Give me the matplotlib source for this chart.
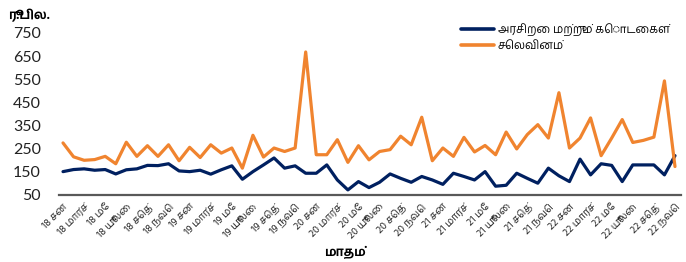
import os
import matplotlib
matplotlib.use("Agg")
import matplotlib.pyplot as plt
from matplotlib import font_manager
from matplotlib.font_manager import FontProperties
import numpy as np

# ---- data (Jan 2018 .. Nov 2022, monthly, Rs. bn) ----
revenue_grants = [151, 160, 163, 157, 160, 141, 159, 163, 178, 177, 185, 154, 151, 157, 140,
                  159, 176, 118, 151, 180, 210, 166, 176, 144, 144, 180, 115, 72, 108, 82,
                  105, 141, 122, 105, 130, 115, 96, 144, 130, 115, 151, 88, 92, 144, 122,
                  101, 166, 133, 108, 205, 137, 185, 178, 108, 180, 180, 180, 137, 220]
expenditure = [275, 215, 200, 203, 217, 185, 278, 217, 263, 217, 267, 198, 256, 212, 267,
               231, 253, 166, 308, 214, 253, 238, 253, 668, 224, 224, 289, 191, 263, 202,
               238, 246, 304, 267, 386, 198, 253, 217, 299, 236, 264, 224, 322, 249, 311,
               354, 296, 492, 253, 296, 383, 220, 296, 376, 277, 286, 300, 543, 173]
x_tick_labels = [
    "18 சன", "18 மார்ச்", "18 மே", "18 யூலை", "18 செத்", "18 நவெ",
    "19 சன", "19 மார்ச்", "19 மே", "19 யூலை", "19 செத்", "19 நவெ",
    "20 சன", "20 மார்ச்", "20 மே", "20 யூலை", "20 செத்", "20 நவெ",
    "21 சன", "21 மார்ச்", "21 மே", "21 யூலை", "21 செத்", "21 நவெ",
    "22 சன", "22 மார்ச்", "22 மே", "22 யூலை", "22 செத்", "22 நவெ",
]
y_ticks = [50, 150, 250, 350, 450, 550, 650, 750]
series_names = ["அரசிறை மற்றும் கொடைகள்", "செலவினம்"]
y_label = "ரூ.பில."
x_label = "மாதம்"

# ---- locate installed fonts with Tamil glyphs ----
def find_font(names):
    paths = set(f.fname for f in font_manager.fontManager.ttflist)
    try:
        paths |= set(font_manager.findSystemFonts())
    except Exception:
        pass
    for n in names:
        for p in sorted(paths):
            if os.path.basename(p).lower() == n.lower():
                return p
    return None

reg_path = find_font(["HindMadurai-Regular.ttf", "FreeSans.ttf"])
bold_path = find_font(["HindMadurai-Bold.ttf", "FreeSansBold.ttf"]) or reg_path

def tprop(size, bold=False):
    p = bold_path if bold else reg_path
    if p:
        return FontProperties(fname=p, size=size)
    return FontProperties(family="DejaVu Sans", size=size,
                          weight="bold" if bold else "normal")

plt.rcParams["font.family"] = ["Lato", "DejaVu Sans"]

NAVY = "#002060"
ORANGE = "#F0842F"

W, H = 686, 262
fig = plt.figure(figsize=(W / 100, H / 100), dpi=100)
ax = fig.add_axes([59 / W, 1 - 195 / H, (681 - 59) / W, (195 - 33) / H])

x = np.arange(len(expenditure))
ax.plot(x, revenue_grants, color=NAVY, lw=2.3, solid_joinstyle="round",
        solid_capstyle="round", label=series_names[0])
ax.plot(x, expenditure, color=ORANGE, lw=2.3, solid_joinstyle="round",
        solid_capstyle="round", label=series_names[1])

ax.set_xlim(-0.38, len(expenditure) - 1 + 0.57)
ax.set_ylim(50, 750)
ax.set_yticks(y_ticks)
ax.set_yticklabels([str(v) for v in y_ticks], fontsize=11.5, color="#222222")
ax.set_xticks(np.arange(0, len(expenditure), 2))
ax.set_xticklabels(x_tick_labels, rotation=45, ha="right", rotation_mode="anchor",
                   fontproperties=tprop(7.5), color="#222222")
ax.tick_params(axis="y", length=0, pad=13)
ax.tick_params(axis="x", length=0, pad=5)

for s in ["top", "right", "left"]:
    ax.spines[s].set_visible(False)
ax.spines["bottom"].set_color("#595959")
ax.spines["bottom"].set_linewidth(1.6)

fig.text(8 / W, 1 - 16 / H, y_label, fontproperties=tprop(9, True), ha="left", va="center")
fig.text(345 / W, 1 - 252 / H, x_label, fontproperties=tprop(9, True), ha="center", va="center")

leg = ax.legend(loc="upper left", bbox_to_anchor=(455 / W, 1 - 17 / H),
                bbox_transform=fig.transFigure, frameon=False, prop=tprop(8.3),
                handlelength=2.9, handletextpad=0.3, labelspacing=0.45, borderpad=0)
for line in leg.get_lines():
    line.set_linewidth(2.6)

fig.savefig("out.png", dpi=100)
